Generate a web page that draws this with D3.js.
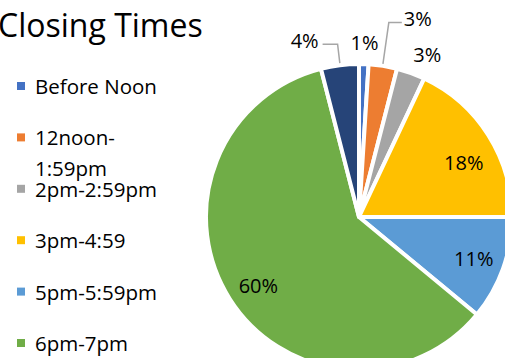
<!DOCTYPE html>
<html>
<head>
<meta charset="utf-8">
<script src="https://cdn.jsdelivr.net/npm/d3@7/dist/d3.min.js"></script>
<style>
  html, body { margin: 0; padding: 0; background: #fff; }
  svg { display: block; overflow: hidden; }
  text { font-family: "Open Sans", "DejaVu Sans", sans-serif; fill: #000; }
</style>
</head>
<body>
<svg id="chart" width="505" height="358"></svg>
<script>
// Closing time categories and their share of stores (percent)
const categories = ["Before Noon", "12noon-1:59pm", "2pm-2:59pm", "3pm-4:59", "5pm-5:59pm", "6pm-7pm", "After 7pm"];
const shares = [1, 3, 3, 18, 11, 60, 4];
const colors = ["#4472C4", "#ED7D31", "#A5A5A5", "#FFC000", "#5B9BD5", "#70AD47", "#264478"];
// Legend text broken onto lines
const legendLines = [["Before Noon"], ["12noon-", "1:59pm"], ["2pm-2:59pm"], ["3pm-4:59"], ["5pm-5:59pm"], ["6pm-7pm"], ["After 7pm"]];

const W = 505, H = 358;
const cx = 359, cy = 217, R = 153;

const svg = d3.select("#chart");

// Title
svg.append("text")
  .attr("x", -2).attr("y", 37)
  .style("font-size", "32px")
  .text("Closing Times");

// Pie
const pie = d3.pie().sort(null).value(d => d).startAngle(0).endAngle(2 * Math.PI);
const arcs = pie(shares);
const arc = d3.arc().innerRadius(0).outerRadius(R);

const g = svg.append("g").attr("transform", `translate(${cx},${cy})`);
g.selectAll("path.slice")
  .data(arcs)
  .join("path")
  .attr("class", "slice")
  .attr("d", arc)
  .attr("fill", (d, i) => colors[i])
  .attr("stroke", "#fff")
  .attr("stroke-width", 4)
  .attr("stroke-linejoin", "round");

// Label placement per slice: radius, angular nudge (deg), and whether a leader line is drawn
const labelLayout = [
  { r: 175, nudge: 0, leader: false },
  { r: 207, nudge: 7.5, leader: true, side: "right" },
  { r: 176, nudge: 3, leader: false },
  { r: 118, nudge: 5, leader: false },
  { r: 122, nudge: 0, leader: false },
  { r: 122, nudge: -2, leader: false },
  { r: 185, nudge: -9.9, leader: true, side: "left" }
];

const polar = (r, a) => [r * Math.sin(a), -r * Math.cos(a)];

arcs.forEach((d, i) => {
  const L = labelLayout[i];
  const mid = (d.startAngle + d.endAngle) / 2;
  const [lx, ly] = polar(L.r, mid + L.nudge * Math.PI / 180);
  const label = shares[i] + "%";
  const t = g.append("text")
    .attr("x", lx).attr("y", ly)
    .attr("text-anchor", "middle")
    .attr("dominant-baseline", "central")
    .style("font-size", "20px")
    .text(label);
  if (L.leader) {
    const w = t.node().getComputedTextLength();
    const [sx, sy] = polar(R, mid);
    const lineY = ly + 4;
    const edgeX = L.side === "right" ? lx - w / 2 - 2 : lx + w / 2 + 4;
    const elbowX = L.side === "right" ? edgeX - 13 : edgeX + 15;
    g.append("polyline")
      .attr("points", [[sx, sy - 2], [elbowX, lineY], [edgeX, lineY]].map(p => p.join(",")).join(" "))
      .attr("fill", "none")
      .attr("stroke", "#A6A6A6")
      .attr("stroke-width", 1.5);
  }
});

// Legend (entries that fall below the chart area are left out)
const legendTop = 86, legendStep = 51.4;
const lg = svg.append("g");
categories.forEach((c, i) => {
  const y = legendTop + i * legendStep;
  if (y > H) return;
  lg.append("rect")
    .attr("x", 17).attr("y", y - 4)
    .attr("width", 8).attr("height", 8)
    .attr("fill", colors[i]);
  legendLines[i].forEach((line, k) => {
    lg.append("text")
      .attr("x", 35).attr("y", y + k * 31)
      .attr("dominant-baseline", "central")
      .style("font-size", "20.5px")
      .text(line);
  });
});
</script>
</body>
</html>
